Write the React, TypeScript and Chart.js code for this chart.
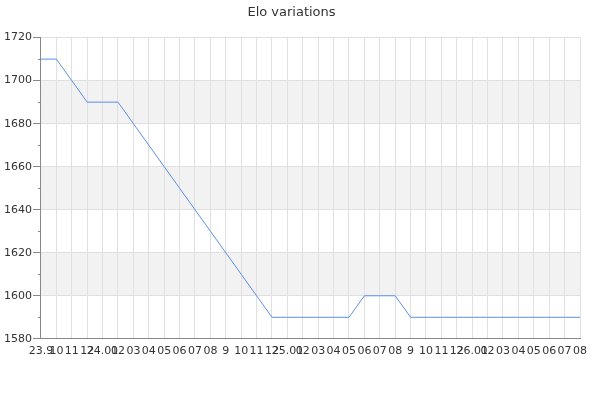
import React, { useEffect, useRef } from "react";
import { Chart, registerables } from "chart.js";

Chart.register(...registerables);

const monthLabels: string[] = [
  "23.9", "10", "11", "12",
  "24.01", "02", "03", "04", "05", "06", "07", "08", "9", "10", "11", "12",
  "25.01", "02", "03", "04", "05", "06", "07", "08", "9", "10", "11", "12",
  "26.01", "02", "03", "04", "05", "06", "07", "08",
];

const eloValues: number[] = [
  1710, 1710, 1700, 1690,
  1690, 1690, 1680, 1670, 1660, 1650, 1640, 1630, 1620, 1610, 1600, 1590,
  1590, 1590, 1590, 1590, 1590, 1600, 1600, 1600, 1590, 1590, 1590, 1590,
  1590, 1590, 1590, 1590, 1590, 1590, 1590, 1590,
];

const yMin = 1580;
const yMax = 1720;
const yStep = 20;
const titleText = "Elo variations";

const bandsPlugin = {
  id: "bands",
  beforeDraw(chart: any) {
    const { ctx, chartArea, scales } = chart;
    const y = scales.y;
    ctx.save();
    ctx.fillStyle = "#f2f2f2";
    for (let v = yMin + yStep; v < yMax; v += yStep * 2) {
      const top = y.getPixelForValue(v + yStep);
      const bottom = y.getPixelForValue(v);
      ctx.fillRect(chartArea.left, top, chartArea.right - chartArea.left, bottom - top);
    }
    ctx.restore();
  },
  afterDraw(chart: any) {
    const { ctx, chartArea, scales } = chart;
    const y = scales.y;
    ctx.save();
    ctx.strokeStyle = "#888888";
    ctx.lineWidth = 1;
    for (let v = yMin + yStep / 2; v < yMax; v += yStep) {
      const py = Math.round(y.getPixelForValue(v)) + 0.5;
      ctx.beginPath();
      ctx.moveTo(chartArea.left - 3, py);
      ctx.lineTo(chartArea.left, py);
      ctx.stroke();
    }
    ctx.restore();
  },
};

export default function App() {
  const ref = useRef<HTMLCanvasElement | null>(null);

  useEffect(() => {
    if (!ref.current) return;
    const chart = new Chart(ref.current, {
      type: "line",
      data: {
        labels: monthLabels,
        datasets: [
          {
            label: "Elo",
            data: eloValues,
            borderColor: "#5b8fea",
            borderWidth: 1,
            pointRadius: 0,
            tension: 0,
            fill: false,
          },
        ],
      },
      options: {
        animation: false,
        responsive: false,
        maintainAspectRatio: false,
        layout: { padding: { left: 3, right: 20, top: 0, bottom: 36 } },
        plugins: {
          legend: { display: false },
          tooltip: { enabled: false },
          title: {
            display: true,
            text: titleText,
            color: "#333333",
            font: { family: "DejaVu Sans", size: 13, weight: "normal" },
            padding: { top: 5, bottom: 17 },
          },
        },
        scales: {
          x: {
            offset: false,
            grid: { color: "#e0e0e0", drawTicks: false },
            border: { color: "#888888" },
            ticks: {
              autoSkip: false,
              maxRotation: 0,
              minRotation: 0,
              padding: 6,
              color: "#333333",
              font: { family: "DejaVu Sans", size: 11 },
            },
          },
          y: {
            min: yMin,
            max: yMax,
            grid: { color: "#e0e0e0", tickColor: "#888888", tickLength: 8 },
            border: { color: "#888888" },
            ticks: {
              stepSize: yStep,
              padding: 1,
              color: "#333333",
              font: { family: "DejaVu Sans", size: 11 },
              callback: (v: any) => String(v),
            },
          },
        },
      },
      plugins: [bandsPlugin],
    });
    return () => chart.destroy();
  }, []);

  return (
    <div style={{ position: "fixed", left: 0, top: 0, width: 600, height: 400, background: "#fff" }}>
      <canvas ref={ref} width={600} height={400} style={{ width: 600, height: 400 }} />
    </div>
  );
}
